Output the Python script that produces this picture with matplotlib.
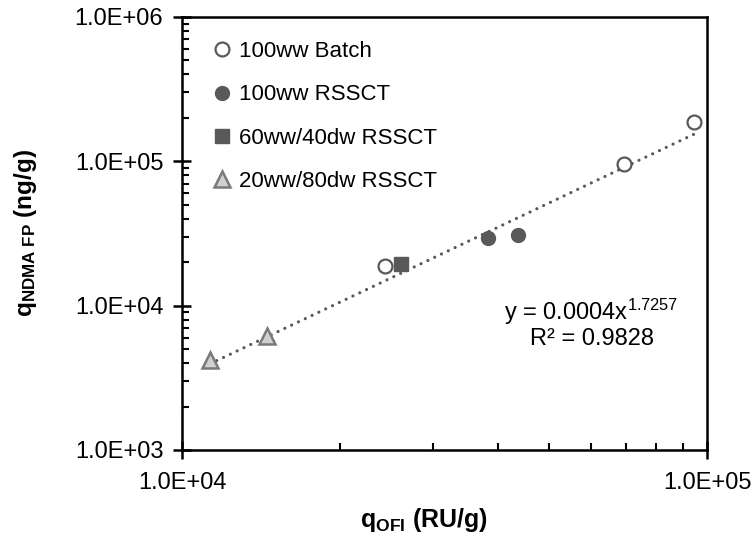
import numpy as np
import matplotlib
matplotlib.use("Agg")
import matplotlib.pyplot as plt
from matplotlib.ticker import LogLocator, FuncFormatter, NullFormatter

plt.rcParams['font.family'] = ['Liberation Sans', 'DejaVu Sans']
plt.rcParams['mathtext.fontset'] = 'custom'
plt.rcParams['mathtext.rm'] = 'Liberation Sans'
plt.rcParams['mathtext.bf'] = 'Liberation Sans:bold'
plt.rcParams['mathtext.it'] = 'Liberation Sans:italic'

# q_OFI (RU/g) and q_NDMA FP (ng/g) for each test series
batch_x = [24400, 69500, 94400]
batch_y = [18900, 95800, 188000]
rssct100_x = [38300, 43600]
rssct100_y = [29600, 30900]
rssct60_x = [26100]
rssct60_y = [19500]
rssct20_x = [11300, 14500]
rssct20_y = [4200, 6170]

# power-law fit: y = a * x^b
fit_a = 0.0004
fit_b = 1.7257
fit_r2 = 0.9828

dark = '#595959'

fig = plt.figure(figsize=(7.54, 5.40), dpi=100)
ax = fig.add_axes([0.2414, 0.1667, 0.6963, 0.8019])
ax.set_xscale('log')
ax.set_yscale('log')
ax.set_xlim(1e4, 1e5)
ax.set_ylim(1e3, 1e6)

all_x = batch_x + rssct100_x + rssct60_x + rssct20_x
xf = np.logspace(np.log10(min(all_x)), np.log10(max(all_x)), 200)
ax.plot(xf, fit_a * xf ** fit_b, color=dark, lw=2.3,
        ls=(0, (0.01, 2.35)), dash_capstyle='round', zorder=2)

ax.plot(batch_x, batch_y, ls='none', marker='o', ms=10, mfc='white',
        mec=dark, mew=1.6, label='100ww Batch', zorder=3)
ax.plot(rssct100_x, rssct100_y, ls='none', marker='o', ms=10, mfc=dark,
        mec=dark, mew=1.0, label='100ww RSSCT', zorder=3)
ax.plot(rssct60_x, rssct60_y, ls='none', marker='s', ms=10.5, mfc=dark,
        mec=dark, mew=1.0, label='60ww/40dw RSSCT', zorder=3)
ax.plot(rssct20_x, rssct20_y, ls='none', marker='^', ms=11, mfc='#d0d0d0',
        mec='#7a7a7a', mew=1.8, label='20ww/80dw RSSCT', zorder=3)

fmt = FuncFormatter(lambda v, p: f"{v:.1E}")
ax.xaxis.set_major_locator(LogLocator(base=10, numticks=10))
ax.yaxis.set_major_locator(LogLocator(base=10, numticks=10))
ax.xaxis.set_minor_locator(LogLocator(base=10, subs=np.arange(2, 10), numticks=20))
ax.yaxis.set_minor_locator(LogLocator(base=10, subs=np.arange(2, 10), numticks=20))
ax.xaxis.set_major_formatter(fmt)
ax.yaxis.set_major_formatter(fmt)
ax.xaxis.set_minor_formatter(NullFormatter())
ax.yaxis.set_minor_formatter(NullFormatter())

ax.tick_params(axis='both', which='major', direction='inout', length=13,
               width=1.8, labelsize=17, colors='black')
ax.tick_params(axis='y', which='major', pad=7)
ax.tick_params(axis='x', which='major', pad=9)
ax.tick_params(axis='both', which='minor', direction='in', length=5, width=1.5)

for s in ax.spines.values():
    s.set_linewidth(1.8)
    s.set_color('black')

fig.text(0.562, 0.037, r'$\mathbf{q}_{\mathbf{OFI}}$ (RU/g)', fontsize=18,
         fontweight='bold', ha='center', va='center')
fig.text(0.034, 0.568, r'$\mathbf{q}_{\mathbf{NDMA\ FP}}$ (ng/g)', fontsize=17.5,
         fontweight='bold', ha='center', va='center', rotation=90)

ax.text(0.78, 0.292, r'y = 0.0004x$^{1.7257}$' + '\nR² = 0.9828',
        transform=ax.transAxes, fontsize=17, ha='center', va='center',
        linespacing=1.05)

leg = ax.legend(loc='upper left', bbox_to_anchor=(0.034, 0.975), frameon=False,
                fontsize=16, handlelength=0.8, handletextpad=0.35,
                labelspacing=1.0, borderaxespad=0.0, borderpad=0.6)

fig.savefig('out.png', dpi=100)
